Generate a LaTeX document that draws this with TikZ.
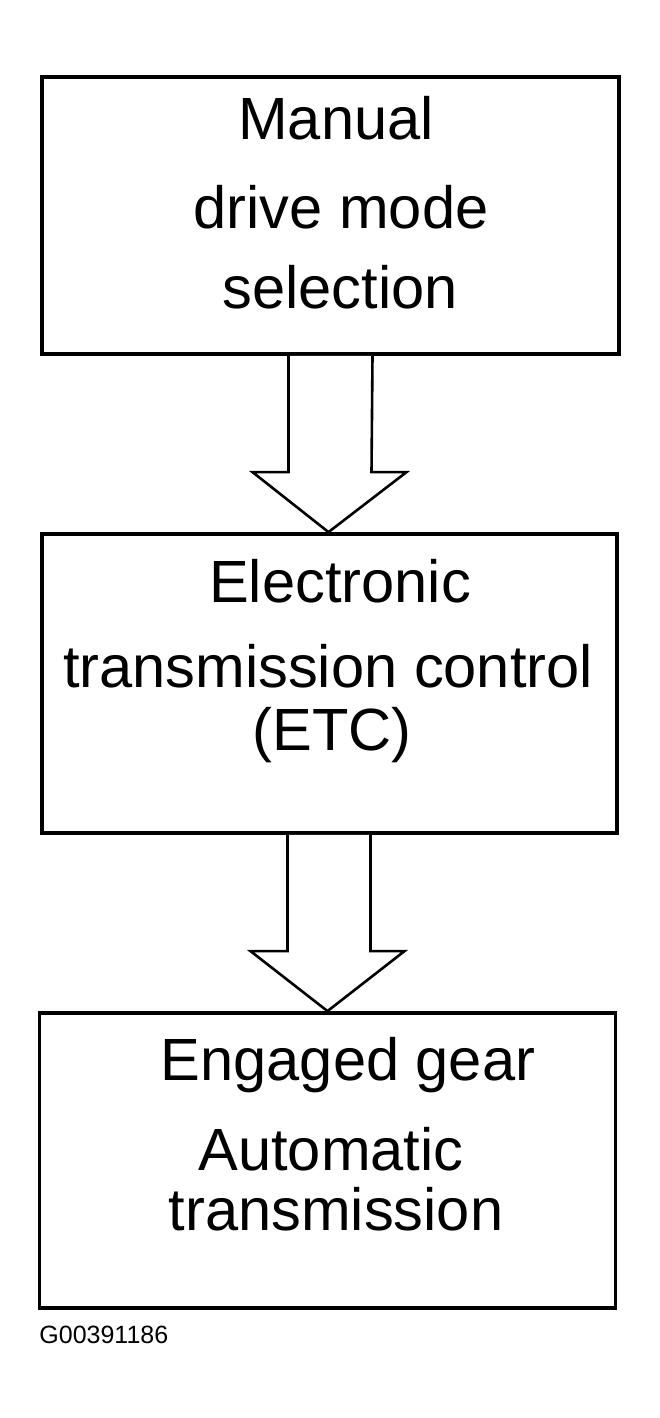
\documentclass[tikz,border=0pt]{standalone}
\usepackage{fontspec}
\setmainfont{Liberation Sans}
\usetikzlibrary{calc}
\tikzset{
  box/.style={draw, line width=1.9pt, rectangle, inner sep=0pt},
  txt/.style={inner sep=0pt, anchor=base, font=\fontsize{29.8}{30}\selectfont},
  fatarrow/.style={draw, line width=1.3pt, fill=white, line join=miter},
  code/.style={inner sep=0pt, anchor=base west, font=\fontsize{12.5}{13}\selectfont}
}
\begin{document}
\begin{tikzpicture}[x=0.5pt,y=-0.5pt]
\useasboundingbox (0,0) rectangle (659,1418);
% boxes
\node[box, minimum width=288.5pt, minimum height=138.5pt] (b1) at (330.5,215.5) {};
\node[box, minimum width=287.5pt, minimum height=149.5pt] (b2) at (329.5,683.5) {};
\node[box, minimum width=288pt, minimum height=147.5pt] (b3) at (327.5,1160.5) {};
% texts
\node[txt] (t11) at (336,140) {Manual};
\node[txt] (t12) at (341,228) {drive mode};
\node[txt] (t13) at (340,308) {selection};
\node[txt] (t21) at (340,602) {Electronic};
\node[txt] (t22) at (328,687) {transmission control};
\node[txt] (t23) at (332,750) {(ETC)};
\node[txt] (t31) at (348,1080) {Engaged gear};
\node[txt] (t32) at (331,1170) {Automatic};
\node[txt] (t33) at (336,1230) {transmission};
\node[code] (cd) at (39,1343) {G00391186};
% arrows
\draw[fatarrow] ($(b1.south)+(-42,0)$) -- ($(b2.north)+(-41,-60)$) -- ($(b2.north)+(-77,-60)$)
  -- ($(b2.north)+(-1,0)$) -- ($(b2.north)+(77,-60)$) -- ($(b2.north)+(42,-60)$) -- ($(b1.south)+(42,0)$);
\draw[fatarrow] ($(b2.south)+(-42,0)$) -- ($(b3.north)+(-40,-60)$) -- ($(b3.north)+(-77,-60)$)
  -- (b3.north) -- ($(b3.north)+(77,-60)$) -- ($(b3.north)+(43,-60)$) -- ($(b2.south)+(41,0)$);
\end{tikzpicture}
\end{document}
